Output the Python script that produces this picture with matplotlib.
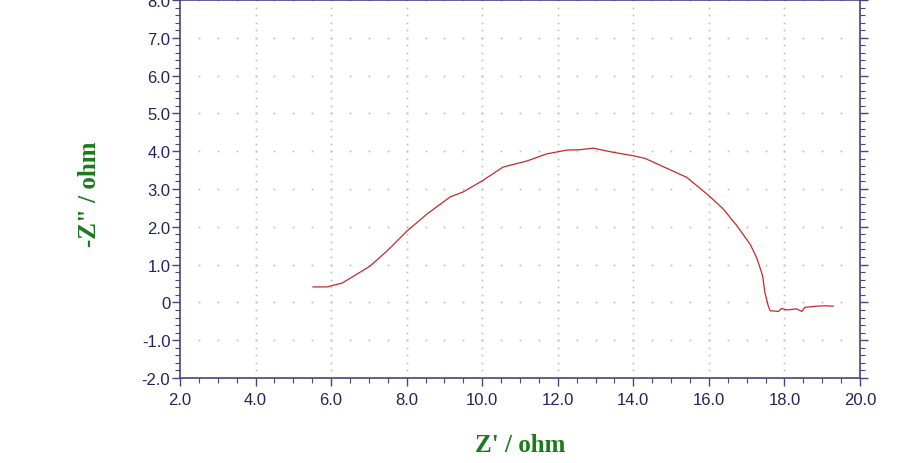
import numpy as np
import matplotlib
matplotlib.use('Agg')
import matplotlib.pyplot as plt
from matplotlib.ticker import MultipleLocator, FuncFormatter

# Nyquist data (Z' and -Z'' in ohm)
z_real = [5.52, 5.89, 6.29, 7.03, 7.48, 8.01, 8.54, 9.15, 9.49, 9.99, 10.55,
          11.18, 11.71, 12.24, 12.59, 12.94, 13.47, 14.00, 14.31, 14.88, 15.41,
          15.98, 16.38, 16.74, 17.09, 17.26, 17.42, 17.48, 17.57, 17.62, 17.84,
          17.92, 18.06, 18.32, 18.46, 18.54, 18.85, 19.07, 19.29]
z_imag = [0.41, 0.41, 0.51, 0.96, 1.36, 1.89, 2.34, 2.79, 2.92, 3.21, 3.58,
          3.74, 3.93, 4.03, 4.04, 4.08, 3.97, 3.88, 3.81, 3.55, 3.31,
          2.84, 2.47, 2.03, 1.54, 1.19, 0.71, 0.27, -0.09, -0.22, -0.24,
          -0.16, -0.20, -0.17, -0.24, -0.13, -0.10, -0.09, -0.10]

x_lim = (2.0, 20.0)
y_lim = (-2.0, 8.0)

navy = '#22225e'
spine_col = '#45457f'
green = '#1b7a1b'

fig = plt.figure(figsize=(9, 4.64), dpi=100)
ax = fig.add_axes([0.2, 1 - 379 / 464, 0.7556, 378 / 464])

# dotted grid: rows at major y, columns at major x
gx_rows = np.arange(2.5, 20.0, 0.5)
for yv in np.arange(-1, 9, 1):
    ax.plot(gx_rows, np.full_like(gx_rows, yv), ls='none', marker='s',
            ms=1.2, mec='none', mfc='#bdbdbd', zorder=1)
gy_cols = np.arange(-1.8, 8.0, 0.2)
for xv in np.arange(4, 20, 2):
    ax.plot(np.full_like(gy_cols, xv), gy_cols, ls='none', marker='s',
            ms=1.2, mec='none', mfc='#bdbdbd', zorder=1)

ax.plot(z_real, z_imag, color='#c82828', lw=0.9, zorder=3)

ax.set_xlim(*x_lim)
ax.set_ylim(*y_lim)
ax.xaxis.set_major_locator(MultipleLocator(2))
ax.xaxis.set_minor_locator(MultipleLocator(0.5))
ax.yaxis.set_major_locator(MultipleLocator(1))
ax.yaxis.set_minor_locator(MultipleLocator(0.2))
ax.xaxis.set_major_formatter(FuncFormatter(lambda v, p: f'{v:.1f}'))
ax.yaxis.set_major_formatter(FuncFormatter(lambda v, p: '0' if abs(v) < 1e-9 else f'{v:.1f}'))

ax.tick_params(which='both', direction='out', top=True, right=True,
               colors=spine_col, labelcolor=navy, labelsize=12)
ax.tick_params(which='major', length=6, width=1)
ax.tick_params(which='minor', length=3.5, width=0.8)
ax.tick_params(axis='y', pad=1)
ax.tick_params(axis='x', pad=4)
for lab in ax.get_xticklabels() + ax.get_yticklabels():
    lab.set_fontfamily('Liberation Sans')

for s in ax.spines.values():
    s.set_color(spine_col)
    s.set_linewidth(1.2)

ax.set_xlabel("Z' / ohm", fontfamily='Liberation Serif', fontweight='bold',
              fontsize=18, color=green)
ax.set_ylabel('-Z" / ohm', fontfamily='Liberation Serif', fontweight='bold',
              fontsize=18, color=green)
ax.xaxis.set_label_coords(0.5, -0.145)
ax.yaxis.set_label_coords(-0.116, 0.49)

fig.savefig('out.png', dpi=100)
